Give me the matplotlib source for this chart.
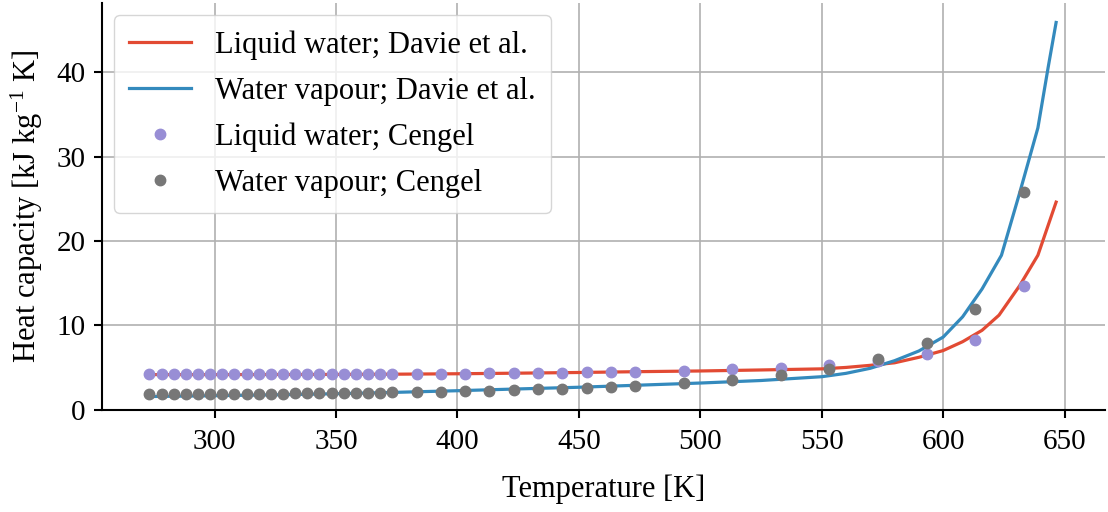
import matplotlib
matplotlib.use("Agg")
import matplotlib.pyplot as plt

# Cengel saturated water table (temperature in K)
T_cengel = [273.16, 278.15, 283.15, 288.15, 293.15, 298.15, 303.15, 308.15, 313.15, 318.15,
            323.15, 328.15, 333.15, 338.15, 343.15, 348.15, 353.15, 358.15, 363.15, 368.15,
            373.15, 383.15, 393.15, 403.15, 413.15, 423.15, 433.15, 443.15, 453.15, 463.15,
            473.15, 493.15, 513.15, 533.15, 553.15, 573.15, 593.15, 613.15, 633.15]
cp_liquid_cengel = [4.217, 4.205, 4.194, 4.185, 4.182, 4.180, 4.178, 4.178, 4.179, 4.180,
                    4.181, 4.183, 4.185, 4.187, 4.190, 4.193, 4.197, 4.201, 4.206, 4.212,
                    4.217, 4.229, 4.244, 4.263, 4.286, 4.311, 4.340, 4.370, 4.410, 4.460,
                    4.500, 4.610, 4.760, 4.970, 5.280, 5.750, 6.540, 8.240, 14.690]
cp_vapour_cengel = [1.854, 1.857, 1.862, 1.863, 1.867, 1.870, 1.875, 1.880, 1.885, 1.892,
                    1.900, 1.908, 1.916, 1.926, 1.936, 1.948, 1.962, 1.977, 1.993, 2.010,
                    2.029, 2.071, 2.120, 2.177, 2.244, 2.314, 2.420, 2.490, 2.590, 2.710,
                    2.840, 3.110, 3.520, 4.070, 4.835, 5.980, 7.900, 11.870, 25.800]

# Davie et al. model curves
T_davie_liquid = [273.15, 300, 325, 350, 375, 400, 425, 450, 475, 500, 525, 550, 560, 570,
                  580, 590, 600, 608, 616, 623, 631.5, 639, 646.5]
cp_liquid_davie = [4.15, 4.15, 4.16, 4.17, 4.2, 4.25, 4.32, 4.4, 4.5, 4.58, 4.7, 4.83, 5.0, 5.25,
                   5.55, 6.2, 7.0, 8.05, 9.4, 11.2, 14.7, 18.3, 24.6]
T_davie_vapour = [273.15, 300, 325, 350, 375, 400, 425, 450, 475, 500, 525, 550, 560, 570,
                  580, 590, 600, 608, 616, 624, 631.5, 639, 643.3, 646.5]
cp_vapour_davie = [1.55, 1.65, 1.75, 1.88, 2.05, 2.24, 2.45, 2.65, 2.9, 3.15, 3.45, 3.9, 4.3, 4.9,
                   5.8, 6.95, 8.6, 11.0, 14.3, 18.3, 25.7, 33.4, 40.7, 45.9]

x_ticks = [300, 350, 400, 450, 500, 550, 600, 650]
y_ticks = [0, 10, 20, 30, 40]

plt.rcParams['font.family'] = ['Liberation Serif', 'DejaVu Serif']
plt.rcParams['mathtext.fontset'] = 'custom'
plt.rcParams['mathtext.rm'] = 'Liberation Serif'
plt.rcParams['mathtext.it'] = 'Liberation Serif:italic'
plt.rcParams['font.size'] = 22

fig = plt.figure(figsize=(11.08, 5.12), dpi=100)
ax = fig.add_axes([0.092, 0.2, 0.905, 0.794])

ax.plot(T_davie_liquid, cp_liquid_davie, color='#E24A33', lw=2.3, label='Liquid water; Davie et al.')
ax.plot(T_davie_vapour, cp_vapour_davie, color='#348ABD', lw=2.3, label='Water vapour; Davie et al.')
ax.plot(T_cengel, cp_liquid_cengel, 'o', color='#988ED5', ms=7.5, label='Liquid water; Cengel')
ax.plot(T_cengel, cp_vapour_cengel, 'o', color='#777777', ms=7.5, label='Water vapour; Cengel')

ax.set_xticks(x_ticks)
ax.set_yticks(y_ticks)
ax.set_xlim(253.6, 666.5)
ax.set_ylim(0, 48.2)
ax.grid(True, color='#b0b0b0', lw=1.2)
ax.set_axisbelow(True)
for s in ['top', 'right']:
    ax.spines[s].set_visible(False)
for s in ['left', 'bottom']:
    ax.spines[s].set_linewidth(1.5)
    ax.spines[s].set_color('black')
ax.tick_params(direction='out', length=6, width=1.5, colors='black', labelsize=21)
ax.tick_params(axis='x', pad=8)
ax.tick_params(axis='y', pad=6)

ax.set_xlabel('Temperature [K]', fontsize=22, labelpad=14)
ax.set_ylabel('Heat capacity [kJ kg$^{-1}$ K]', fontsize=22, labelpad=8)

leg = ax.legend(loc='upper left', fontsize=22, framealpha=0.8, edgecolor='#cccccc',
                borderpad=0.5, handlelength=2.0, handletextpad=0.8, labelspacing=0.55,
                borderaxespad=0.4)

fig.savefig('out.png', dpi=100)
